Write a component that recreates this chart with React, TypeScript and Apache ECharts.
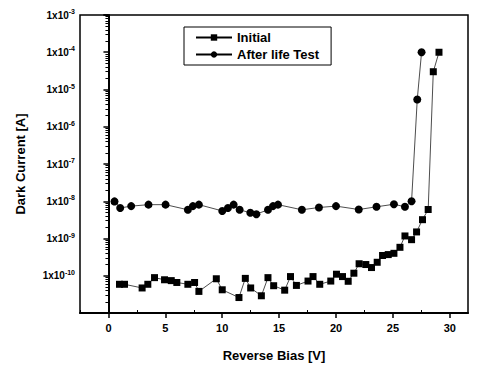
import React, { useEffect, useRef } from "react";
import * as echarts from "echarts";

const initialX = [0.97, 1.41, 2.96, 3.46, 4.05, 4.93, 5.52, 6.01, 6.98, 7.57, 7.95, 9.48, 10.0, 11.47, 12.03, 12.5, 13.44, 14.02, 14.52, 15.49, 16.0, 16.52, 17.54, 17.98, 18.57, 19.54, 20.04, 20.57, 21.07, 21.57, 22.03, 22.62, 23.12, 23.62, 24.09, 24.59, 25.09, 25.62, 26.06, 26.64, 27.08, 27.6, 28.1, 28.55, 29.05];
const initialY = [5.9e-11, 5.9e-11, 4.7e-11, 5.9e-11, 8.9e-11, 7.8e-11, 7.4e-11, 6.6e-11, 5.9e-11, 6.6e-11, 3.8e-11, 8.3e-11, 4.2e-11, 2.6e-11, 8.5e-11, 4.7e-11, 2.9e-11, 8.9e-11, 5.4e-11, 4.1e-11, 9.5e-11, 5.5e-11, 7.2e-11, 9.5e-11, 5.9e-11, 7.2e-11, 1.1e-10, 9.5e-11, 7.1e-11, 1.17e-10, 2.1e-10, 2.0e-10, 1.66e-10, 2.3e-10, 3.5e-10, 3.7e-10, 4.0e-10, 5.8e-10, 1.17e-9, 9.3e-10, 1.5e-9, 3.2e-9, 6.0e-9, 3.0e-5, 1.0e-4];

const afterX = [0.53, 1.03, 2.0, 3.52, 5.02, 6.98, 7.42, 7.95, 10.0, 10.5, 11.0, 11.53, 12.47, 13.0, 14.02, 14.46, 14.9, 17.0, 18.5, 20.0, 22.0, 23.56, 25.09, 26.06, 26.64, 27.14, 27.52];
const afterY = [9.9e-9, 6.6e-9, 7.4e-9, 8.1e-9, 8.1e-9, 5.9e-9, 7.4e-9, 8.1e-9, 5.5e-9, 6.6e-9, 8.1e-9, 5.9e-9, 4.9e-9, 4.5e-9, 5.9e-9, 7.4e-9, 8.1e-9, 5.9e-9, 6.8e-9, 7.4e-9, 6.0e-9, 7.1e-9, 8.3e-9, 7.1e-9, 1.0e-8, 5.4e-6, 1.0e-4];

const xMajorTicks = [0, 5, 10, 15, 20, 25, 30];
const xMinorTicks = [-2.5, 2.5, 7.5, 12.5, 17.5, 22.5, 27.5];

const seriesNames = ["Initial", "After life Test"];
const FONT = "Liberation Sans, Arial, sans-serif";

export default function App() {
  const ref = useRef<HTMLDivElement>(null);
  useEffect(() => {
    if (!ref.current) return;
    const chart = echarts.init(ref.current, undefined, { renderer: "svg" });
    const pairs = (xs: number[], ys: number[]) => xs.map((x, i) => [x, ys[i]]);
    chart.setOption({
      animation: false,
      backgroundColor: "#fff",
      textStyle: { fontFamily: FONT, color: "#000" },
      grid: {
        left: 80, right: 14, top: 15, bottom: 52,
        show: true, borderColor: "#000", borderWidth: 1.5, backgroundColor: "transparent",
      },
      legend: {
        orient: "vertical",
        left: 184, top: 27,
        borderColor: "#000", borderWidth: 1,
        padding: [4, 12, 4, 11],
        itemGap: 4,
        itemWidth: 36, itemHeight: 8,
        textStyle: { fontFamily: FONT, fontSize: 13, fontWeight: "bold", color: "#000" },
        data: seriesNames,
      },
      xAxis: [
        {
          type: "value", min: -2.5, max: 31.6,
          position: "bottom",
          name: "Reverse Bias [V]", nameLocation: "middle", nameGap: 36,
          nameTextStyle: { fontFamily: FONT, fontSize: 13, fontWeight: "bold", color: "#000" },
          axisLine: { lineStyle: { color: "#000", width: 2 } },
          axisTick: { show: true, customValues: xMajorTicks, length: 5, lineStyle: { color: "#000", width: 1.5 } },
          axisLabel: { customValues: xMajorTicks, fontFamily: FONT, fontSize: 11, fontWeight: "bold", color: "#000", margin: 9 },
          splitLine: { show: false },
        },
        {
          type: "value", min: -2.5, max: 31.6,
          position: "bottom",
          axisLine: { show: false },
          axisTick: { show: true, inside: true, customValues: xMinorTicks, length: 3, lineStyle: { color: "#000", width: 1 } },
          axisLabel: { show: false },
          splitLine: { show: false },
        },
      ],
      yAxis: {
        type: "log", logBase: 10, min: 1e-11, max: 1e-3, interval: 1,
        name: "Dark Current [A]", nameLocation: "middle", nameGap: 53,
        nameTextStyle: { fontFamily: FONT, fontSize: 13, fontWeight: "bold", color: "#000" },
        axisLine: { lineStyle: { color: "#000", width: 2 } },
        axisTick: { show: true, length: 5, lineStyle: { color: "#000", width: 1.5 } },
        minorTick: { show: true, splitNumber: 9, length: 3, lineStyle: { color: "#000", width: 1 } },
        axisLabel: {
          fontFamily: FONT, color: "#000", margin: 5,
          formatter: (v: number) => {
            const e = Math.round(Math.log10(v));
            if (e <= -11) return "";
            return `{a|1x10}{b|${e}}`;
          },
          rich: {
            a: { fontFamily: FONT, fontSize: 10, fontWeight: "bold", color: "#000" },
            b: { fontFamily: FONT, fontSize: 7, fontWeight: "bold", color: "#000", padding: [0, 0, 7, 0] },
          },
        },
        splitLine: { show: false },
      },
      series: [
        {
          name: seriesNames[0], type: "line", xAxisIndex: 0,
          data: pairs(initialX, initialY),
          symbol: "rect", symbolSize: 7,
          itemStyle: { color: "#000" },
          lineStyle: { color: "#000", width: 0.7 },
        },
        {
          name: seriesNames[1], type: "line", xAxisIndex: 0,
          data: pairs(afterX, afterY),
          symbol: "circle", symbolSize: 8,
          itemStyle: { color: "#000" },
          lineStyle: { color: "#000", width: 0.7 },
        },
      ],
    });
    return () => chart.dispose();
  }, []);
  return <div ref={ref} style={{ width: 482, height: 367, position: "absolute", left: 0, top: 0 }} />;
}
